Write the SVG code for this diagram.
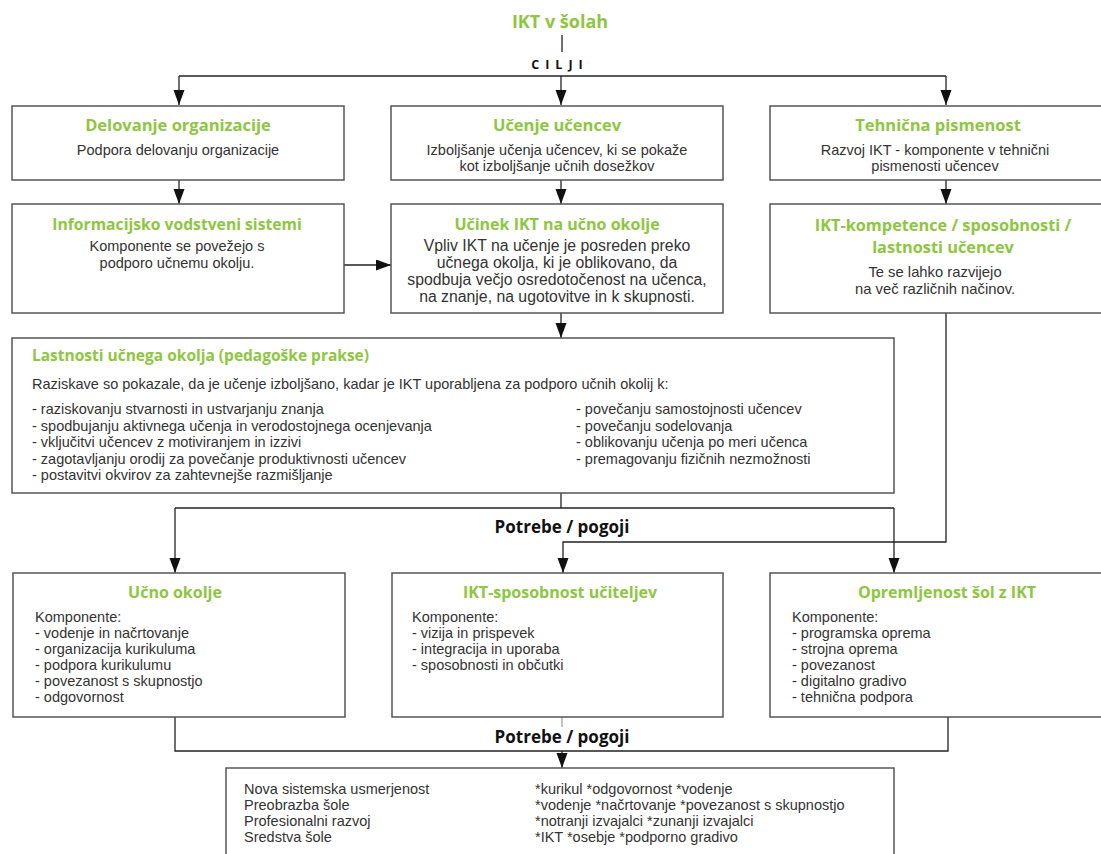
<svg xmlns="http://www.w3.org/2000/svg" width="1101" height="854" viewBox="0 0 1101 854">
<defs>
<marker id="ah" markerUnits="userSpaceOnUse" markerWidth="16" markerHeight="12" refX="15" refY="5.5" orient="auto">
<path d="M0,0 L15,5.5 L0,11 z" fill="#111"/>
</marker>
<style>
.box{fill:#fff;stroke:#555;stroke-width:1.5}
.ln{fill:none;stroke:#222;stroke-width:1.3}
.ar{fill:none;stroke:#222;stroke-width:1.3;marker-end:url(#ah)}
.t{font-family:"Open Sans","Liberation Sans",sans-serif;font-weight:700;fill:#8dc63f;font-size:16px}
.b{font-family:"Liberation Sans",Arial,sans-serif;fill:#333;font-size:14.5px}
.m{text-anchor:middle}
.k{font-family:"Open Sans","Liberation Sans",sans-serif;font-weight:700;fill:#111}
</style>
</defs>
<rect width="1101" height="854" fill="#fff"/>

<g id="connectors">
<line class="ln" x1="562" y1="35" x2="562" y2="52"/>
<line class="ln" x1="179" y1="76" x2="946" y2="76"/>
<line class="ar" x1="179" y1="76" x2="179" y2="105"/>
<line class="ar" x1="561" y1="76" x2="561" y2="105"/>
<line class="ar" x1="946" y1="76" x2="946" y2="105"/>
<line class="ar" x1="179" y1="180" x2="179" y2="204"/>
<line class="ar" x1="561" y1="180" x2="561" y2="204"/>
<line class="ar" x1="946" y1="180" x2="946" y2="204"/>
<line class="ar" x1="344" y1="265" x2="391" y2="265"/>
<line class="ar" x1="561" y1="313" x2="561" y2="338"/>
<polyline class="ar" points="946,313 946,542 563,542 563,573"/>
<line class="ln" x1="561" y1="493" x2="561" y2="508"/>
<line class="ln" x1="175" y1="508" x2="894" y2="508"/>
<line class="ar" x1="175" y1="508" x2="175" y2="573"/>
<line class="ar" x1="894" y1="508" x2="894" y2="573"/>
<polyline class="ln" points="175,717 175,751 948,751 948,717"/>
<line x1="562" y1="717" x2="562" y2="727" stroke="#888" stroke-width="1"/>
<line class="ar" x1="562" y1="751" x2="562" y2="768"/>
</g>

<g id="title">
<text class="t m" x="560" y="28" style="font-size:18px">IKT v šolah</text>
<text class="k m" x="560" y="69" style="font-size:12.5px;letter-spacing:6px">CILJI</text>
</g>

<g id="delovanje">
<rect class="box" x="12" y="106" width="332" height="74"/>
<text class="t m" x="178" y="131" style="font-size:16.5px">Delovanje organizacije</text>
<text class="b m" x="178" y="155">Podpora delovanju organizacije</text>
</g>

<g id="ucenje">
<rect class="box" x="391" y="106" width="332" height="74"/>
<text class="t m" x="557" y="131" style="font-size:16.5px">Učenje učencev</text>
<text class="b m"><tspan x="557" y="155">Izboljšanje učenja učencev, ki se pokaže</tspan><tspan x="557" y="171">kot izboljšanje učnih dosežkov</tspan></text>
</g>

<g id="tehnicna">
<rect class="box" x="770" y="106" width="354" height="74"/>
<text class="t m" x="938" y="131" style="font-size:16.5px">Tehnična pismenost</text>
<text class="b m"><tspan x="935" y="155">Razvoj IKT - komponente v tehnični</tspan><tspan x="935" y="171">pismenosti učencev</tspan></text>
</g>

<g id="informacijsko">
<rect class="box" x="12" y="204" width="332" height="109"/>
<text class="t m" x="177" y="230" style="font-size:15.7px">Informacijsko vodstveni sistemi</text>
<text class="b m"><tspan x="177" y="251">Komponente se povežejo s</tspan><tspan x="177" y="268">podporo učnemu okolju.</tspan></text>
</g>

<g id="ucinek">
<rect class="box" x="391" y="204" width="332" height="109"/>
<text class="t m" x="557" y="230">Učinek IKT na učno okolje</text>
<text class="b m" style="font-size:15.8px"><tspan x="557" y="251">Vpliv IKT na učenje je posreden preko</tspan><tspan x="557" y="268">učnega okolja, ki je oblikovano, da</tspan><tspan x="557" y="285">spodbuja večjo osredotočenost na učenca,</tspan><tspan x="557" y="302">na znanje, na ugotovitve in k skupnosti.</tspan></text>
</g>

<g id="kompetence">
<rect class="box" x="770" y="204" width="354" height="109"/>
<text class="t m" style="font-size:16.3px"><tspan x="943" y="231">IKT-kompetence / sposobnosti /</tspan><tspan x="943" y="253">lastnosti učencev</tspan></text>
<text class="b m" style="font-size:14.8px"><tspan x="935" y="277">Te se lahko razvijejo</tspan><tspan x="935" y="293.5">na več različnih načinov.</tspan></text>
</g>

<g id="lastnosti">
<rect class="box" x="12" y="338" width="882" height="155"/>
<text class="t" x="32" y="361" style="font-size:15.5px">Lastnosti učnega okolja (pedagoške prakse)</text>
<text class="b" x="32" y="389">Raziskave so pokazale, da je učenje izboljšano, kadar je IKT uporabljena za podporo učnih okolij k:</text>
<text class="b"><tspan x="32" y="414">- raziskovanju stvarnosti in ustvarjanju znanja</tspan><tspan x="32" y="430.5">- spodbujanju aktivnega učenja in verodostojnega ocenjevanja</tspan><tspan x="32" y="447">- vključitvi učencev z motiviranjem in izzivi</tspan><tspan x="32" y="463.5">- zagotavljanju orodij za povečanje produktivnosti učencev</tspan><tspan x="32" y="480">- postavitvi okvirov za zahtevnejše razmišljanje</tspan></text>
<text class="b"><tspan x="576" y="414">- povečanju samostojnosti učencev</tspan><tspan x="576" y="430.5">- povečanju sodelovanja</tspan><tspan x="576" y="447">- oblikovanju učenja po meri učenca</tspan><tspan x="576" y="463.5">- premagovanju fizičnih nezmožnosti</tspan></text>
</g>

<g id="potrebe1">
<text class="k m" x="562" y="533" style="font-size:17px">Potrebe / pogoji</text>
</g>

<g id="ucno-okolje">
<rect class="box" x="13" y="573" width="332" height="144"/>
<text class="t m" x="175" y="598">Učno okolje</text>
<text class="b"><tspan x="35" y="622">Komponente:</tspan><tspan x="35" y="638">- vodenje in načrtovanje</tspan><tspan x="35" y="654">- organizacija kurikuluma</tspan><tspan x="35" y="670">- podpora kurikulumu</tspan><tspan x="35" y="686">- povezanost s skupnostjo</tspan><tspan x="35" y="702">- odgovornost</tspan></text>
</g>

<g id="ikt-sposobnost">
<rect class="box" x="392" y="573" width="331" height="144"/>
<text class="t m" x="560" y="598">IKT-sposobnost učiteljev</text>
<text class="b"><tspan x="412" y="622">Komponente:</tspan><tspan x="412" y="638">- vizija in prispevek</tspan><tspan x="412" y="654">- integracija in uporaba</tspan><tspan x="412" y="670">- sposobnosti in občutki</tspan></text>
</g>

<g id="opremljenost">
<rect class="box" x="770" y="573" width="354" height="144"/>
<text class="t m" x="947" y="598">Opremljenost šol z IKT</text>
<text class="b"><tspan x="792" y="622">Komponente:</tspan><tspan x="792" y="638">- programska oprema</tspan><tspan x="792" y="654">- strojna oprema</tspan><tspan x="792" y="670">- povezanost</tspan><tspan x="792" y="686">- digitalno gradivo</tspan><tspan x="792" y="702">- tehnična podpora</tspan></text>
</g>

<g id="potrebe2">
<text class="k m" x="562" y="743" style="font-size:17px">Potrebe / pogoji</text>
</g>

<g id="sistem">
<rect class="box" x="226" y="768" width="668" height="100"/>
<text class="b"><tspan x="244" y="794">Nova sistemska usmerjenost</tspan><tspan x="244" y="810">Preobrazba šole</tspan><tspan x="244" y="826">Profesionalni razvoj</tspan><tspan x="244" y="842">Sredstva šole</tspan></text>
<text class="b"><tspan x="535" y="794">*kurikul *odgovornost *vodenje</tspan><tspan x="535" y="810">*vodenje *načrtovanje *povezanost s skupnostjo</tspan><tspan x="535" y="826">*notranji izvajalci *zunanji izvajalci</tspan><tspan x="535" y="842">*IKT *osebje *podporno gradivo</tspan></text>
</g>
</svg>
